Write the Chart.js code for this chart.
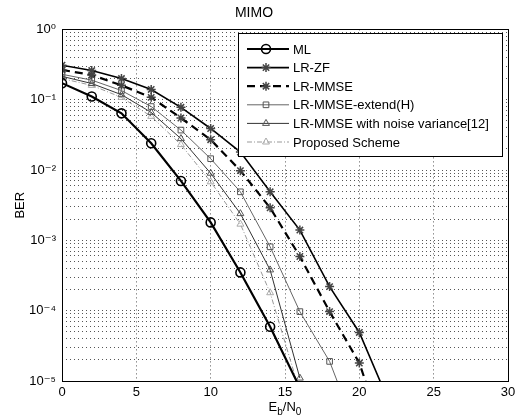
<!DOCTYPE html>
<html><head><meta charset="utf-8">
<script src="https://cdn.jsdelivr.net/npm/chart.js@4.4.1/dist/chart.umd.min.js"></script>
<style>html,body{margin:0;padding:0;background:#fff}#wrap{width:524px;height:418px}</style>
</head><body><div id="wrap"><canvas id="c" width="524" height="418"></canvas></div>
<script>
// ---- data ----
const ebn0 = [0, 2, 4, 6, 8, 10, 12, 14, 16, 18, 20, 22];
const seriesLabels = ['ML', 'LR-ZF', 'LR-MMSE', 'LR-MMSE-extend(H)', 'LR-MMSE with noise variance[12]', 'Proposed Scheme'];
const berML       = [0.172, 0.111, 0.064, 0.024, 0.0070, 0.0018, 3.5e-4, 5.9e-5, 8e-6];
const berLRZF     = [0.31, 0.26, 0.20, 0.14, 0.078, 0.039, 0.018, 0.0049, 0.0014, 2.2e-4, 4.9e-5, 5e-6];
const berLRMMSE   = [0.265, 0.225, 0.16, 0.108, 0.055, 0.027, 0.0098, 0.0029, 5.9e-4, 9.7e-5, 1.8e-5, 1e-6];
const berExtend   = [0.23, 0.19, 0.135, 0.08, 0.037, 0.0145, 0.0049, 8.1e-4, 9.7e-5, 1.9e-5, 1.5e-6];
const berNoiseVar = [0.215, 0.17, 0.118, 0.066, 0.028, 0.009, 0.0024, 3.8e-4, 1.1e-5];
const berProposed = [0.20, 0.16, 0.108, 0.058, 0.023, 0.0068, 0.0017, 1.8e-4, 7e-6];
const xTicks = [0, 5, 10, 15, 20, 25, 30];
const yDecades = [0, -1, -2, -3, -4, -5];
const titleText = 'MIMO';
const yTitle = 'BER';
const xTitleParts = ['E', 'b', '/N', '0'];

const SUP = {'0':'\u2070','1':'\u00B9','2':'\u00B2','3':'\u00B3','4':'\u2074','5':'\u2075','6':'\u2076','7':'\u2077','8':'\u2078','9':'\u2079','-':'\u207B'};
const sup = n => String(n).split('').map(c => SUP[c]).join('');
const pts = arr => arr.map((y, i) => ({x: ebn0[i], y}));
const FONT = "'Liberation Sans', Arial, 'DejaVu Sans', sans-serif";

const datasets = [
  {label: seriesLabels[0], data: pts(berML), borderColor: '#000', borderWidth: 2.2, pointStyle: 'circle', pointRadius: 4.5, pointBorderWidth: 1.6, pointBorderColor: '#000', pointBackgroundColor: 'rgba(0,0,0,0)'},
  {label: seriesLabels[1], data: pts(berLRZF), borderColor: '#000', borderWidth: 1.6, pointStyle: 'star', pointRadius: 4.5, pointBorderWidth: 1.5, pointBorderColor: '#444', pointBackgroundColor: '#888'},
  {label: seriesLabels[2], data: pts(berLRMMSE), borderColor: '#000', borderWidth: 2.2, borderDash: [8, 5], pointStyle: 'star', pointRadius: 4.5, pointBorderWidth: 1.5, pointBorderColor: '#444', pointBackgroundColor: '#888'},
  {label: seriesLabels[3], data: pts(berExtend), borderColor: '#666', borderWidth: 1, pointStyle: 'rect', pointRadius: 4, pointBorderWidth: 1, pointBorderColor: '#555', pointBackgroundColor: 'rgba(0,0,0,0)'},
  {label: seriesLabels[4], data: pts(berNoiseVar), borderColor: '#333', borderWidth: 1, pointStyle: 'triangle', pointRadius: 4, pointBorderWidth: 1, pointBorderColor: '#555', pointBackgroundColor: 'rgba(0,0,0,0)'},
  {label: seriesLabels[5], data: pts(berProposed), borderColor: '#999', borderWidth: 1, borderDash: [5, 2, 1, 2], pointStyle: 'triangle', pointRadius: 4, pointBorderWidth: 1, pointBorderColor: '#aaa', pointBackgroundColor: 'rgba(0,0,0,0)'}
];

const decor = {
  id: 'decor',
  afterDraw(chart) {
    const ctx = chart.ctx, ca = chart.chartArea;
    ctx.save();
    // axes frame
    ctx.strokeStyle = '#000'; ctx.lineWidth = 1; ctx.setLineDash([]);
    ctx.strokeRect(Math.round(ca.left) + 0.5, Math.round(ca.top) + 0.5, Math.round(ca.right - ca.left), Math.round(ca.bottom - ca.top));
    // x title with subscripts
    ctx.fillStyle = '#000'; ctx.textBaseline = 'alphabetic'; ctx.textAlign = 'left';
    const big = '13px ' + FONT, small = '10px ' + FONT;
    const widths = [];
    ctx.font = big; widths[0] = ctx.measureText(xTitleParts[0]).width; widths[2] = ctx.measureText(xTitleParts[2]).width;
    ctx.font = small; widths[1] = ctx.measureText(xTitleParts[1]).width; widths[3] = ctx.measureText(xTitleParts[3]).width;
    const total = widths.reduce((a, b) => a + b, 0);
    let x = (ca.left + ca.right) / 2 - total / 2;
    const base = 411;
    xTitleParts.forEach((p, i) => {
      const isSub = i % 2 === 1;
      ctx.font = isSub ? small : big;
      ctx.fillText(p, x, isSub ? base + 4 : base);
      x += widths[i];
    });
    // legend
    const L = {left: 238, top: 33, right: 502, bottom: 156};
    ctx.fillStyle = '#fff';
    ctx.fillRect(L.left, L.top, L.right - L.left, L.bottom - L.top);
    ctx.strokeStyle = '#000'; ctx.lineWidth = 1;
    ctx.strokeRect(L.left + 0.5, L.top + 0.5, L.right - L.left, L.bottom - L.top);
    chart.data.datasets.forEach((ds, i) => {
      const y = 49 + i * 18.6;
      ctx.save();
      ctx.strokeStyle = ds.borderColor; ctx.lineWidth = ds.borderWidth;
      ctx.setLineDash(ds.borderDash || []);
      ctx.beginPath(); ctx.moveTo(247, y); ctx.lineTo(289, y); ctx.stroke();
      ctx.setLineDash([]);
      ctx.strokeStyle = ds.pointBorderColor; ctx.fillStyle = ds.pointBackgroundColor;
      ctx.lineWidth = ds.pointBorderWidth;
      Chart.helpers.drawPoint(ctx, {pointStyle: ds.pointStyle, radius: ds.pointRadius, borderWidth: ds.pointBorderWidth, rotation: 0}, 266, y);
      ctx.restore();
      ctx.fillStyle = '#000'; ctx.font = '13px ' + FONT; ctx.textBaseline = 'middle'; ctx.textAlign = 'left';
      ctx.fillText(ds.label, 293, y + 1);
    });
    ctx.restore();
  }
};

new Chart(document.getElementById('c'), {
  type: 'line',
  data: {datasets},
  options: {
    responsive: false, animation: false, devicePixelRatio: 1,
    layout: {padding: {left: 0, right: 16, top: 0, bottom: 0}},
    elements: {line: {tension: 0}},
    plugins: {
      legend: {display: false}, tooltip: {enabled: false},
      title: {display: true, text: titleText, color: '#000', font: {family: FONT, size: 14, weight: 'normal'}, padding: {top: 5, bottom: 7.6}}
    },
    scales: {
      x: {
        type: 'linear', min: 0, max: 30,
        afterBuildTicks: s => { s.ticks = xTicks.map(v => ({value: v})); },
        afterFit: s => { s.height = 37; },
        ticks: {color: '#000', font: {family: FONT, size: 13}, padding: 4, autoSkip: false, maxRotation: 0},
        grid: {color: '#555', lineWidth: 1, drawTicks: false},
        border: {display: false, dash: [1, 3]}
      },
      y: {
        type: 'logarithmic', min: 1e-5, max: 1,
        afterBuildTicks: s => {
          const t = [];
          yDecades.forEach(e => { for (let m = 1; m <= 9; m++) { const v = m * Math.pow(10, e); if (v <= 1.0000001 && v >= 0.99e-5) t.push({value: v, major: m === 1}); } });
          s.ticks = t.sort((a, b) => a.value - b.value);
        },
        afterFit: s => { s.width = 62; },
        ticks: {
          color: '#000', font: {family: FONT, size: 13}, padding: 6, autoSkip: false,
          callback: v => { const e = Math.round(Math.log10(v)); return Math.abs(v / Math.pow(10, e) - 1) < 1e-6 ? '10' + sup(e) : ''; }
        },
        grid: {color: '#555', lineWidth: 1, drawTicks: false},
        border: {display: false, dash: [1, 3]},
        title: {display: true, text: yTitle, color: '#000', font: {family: FONT, size: 13}, padding: {top: 13, bottom: 0}}
      }
    }
  },
  plugins: [decor]
});
</script></body></html>
